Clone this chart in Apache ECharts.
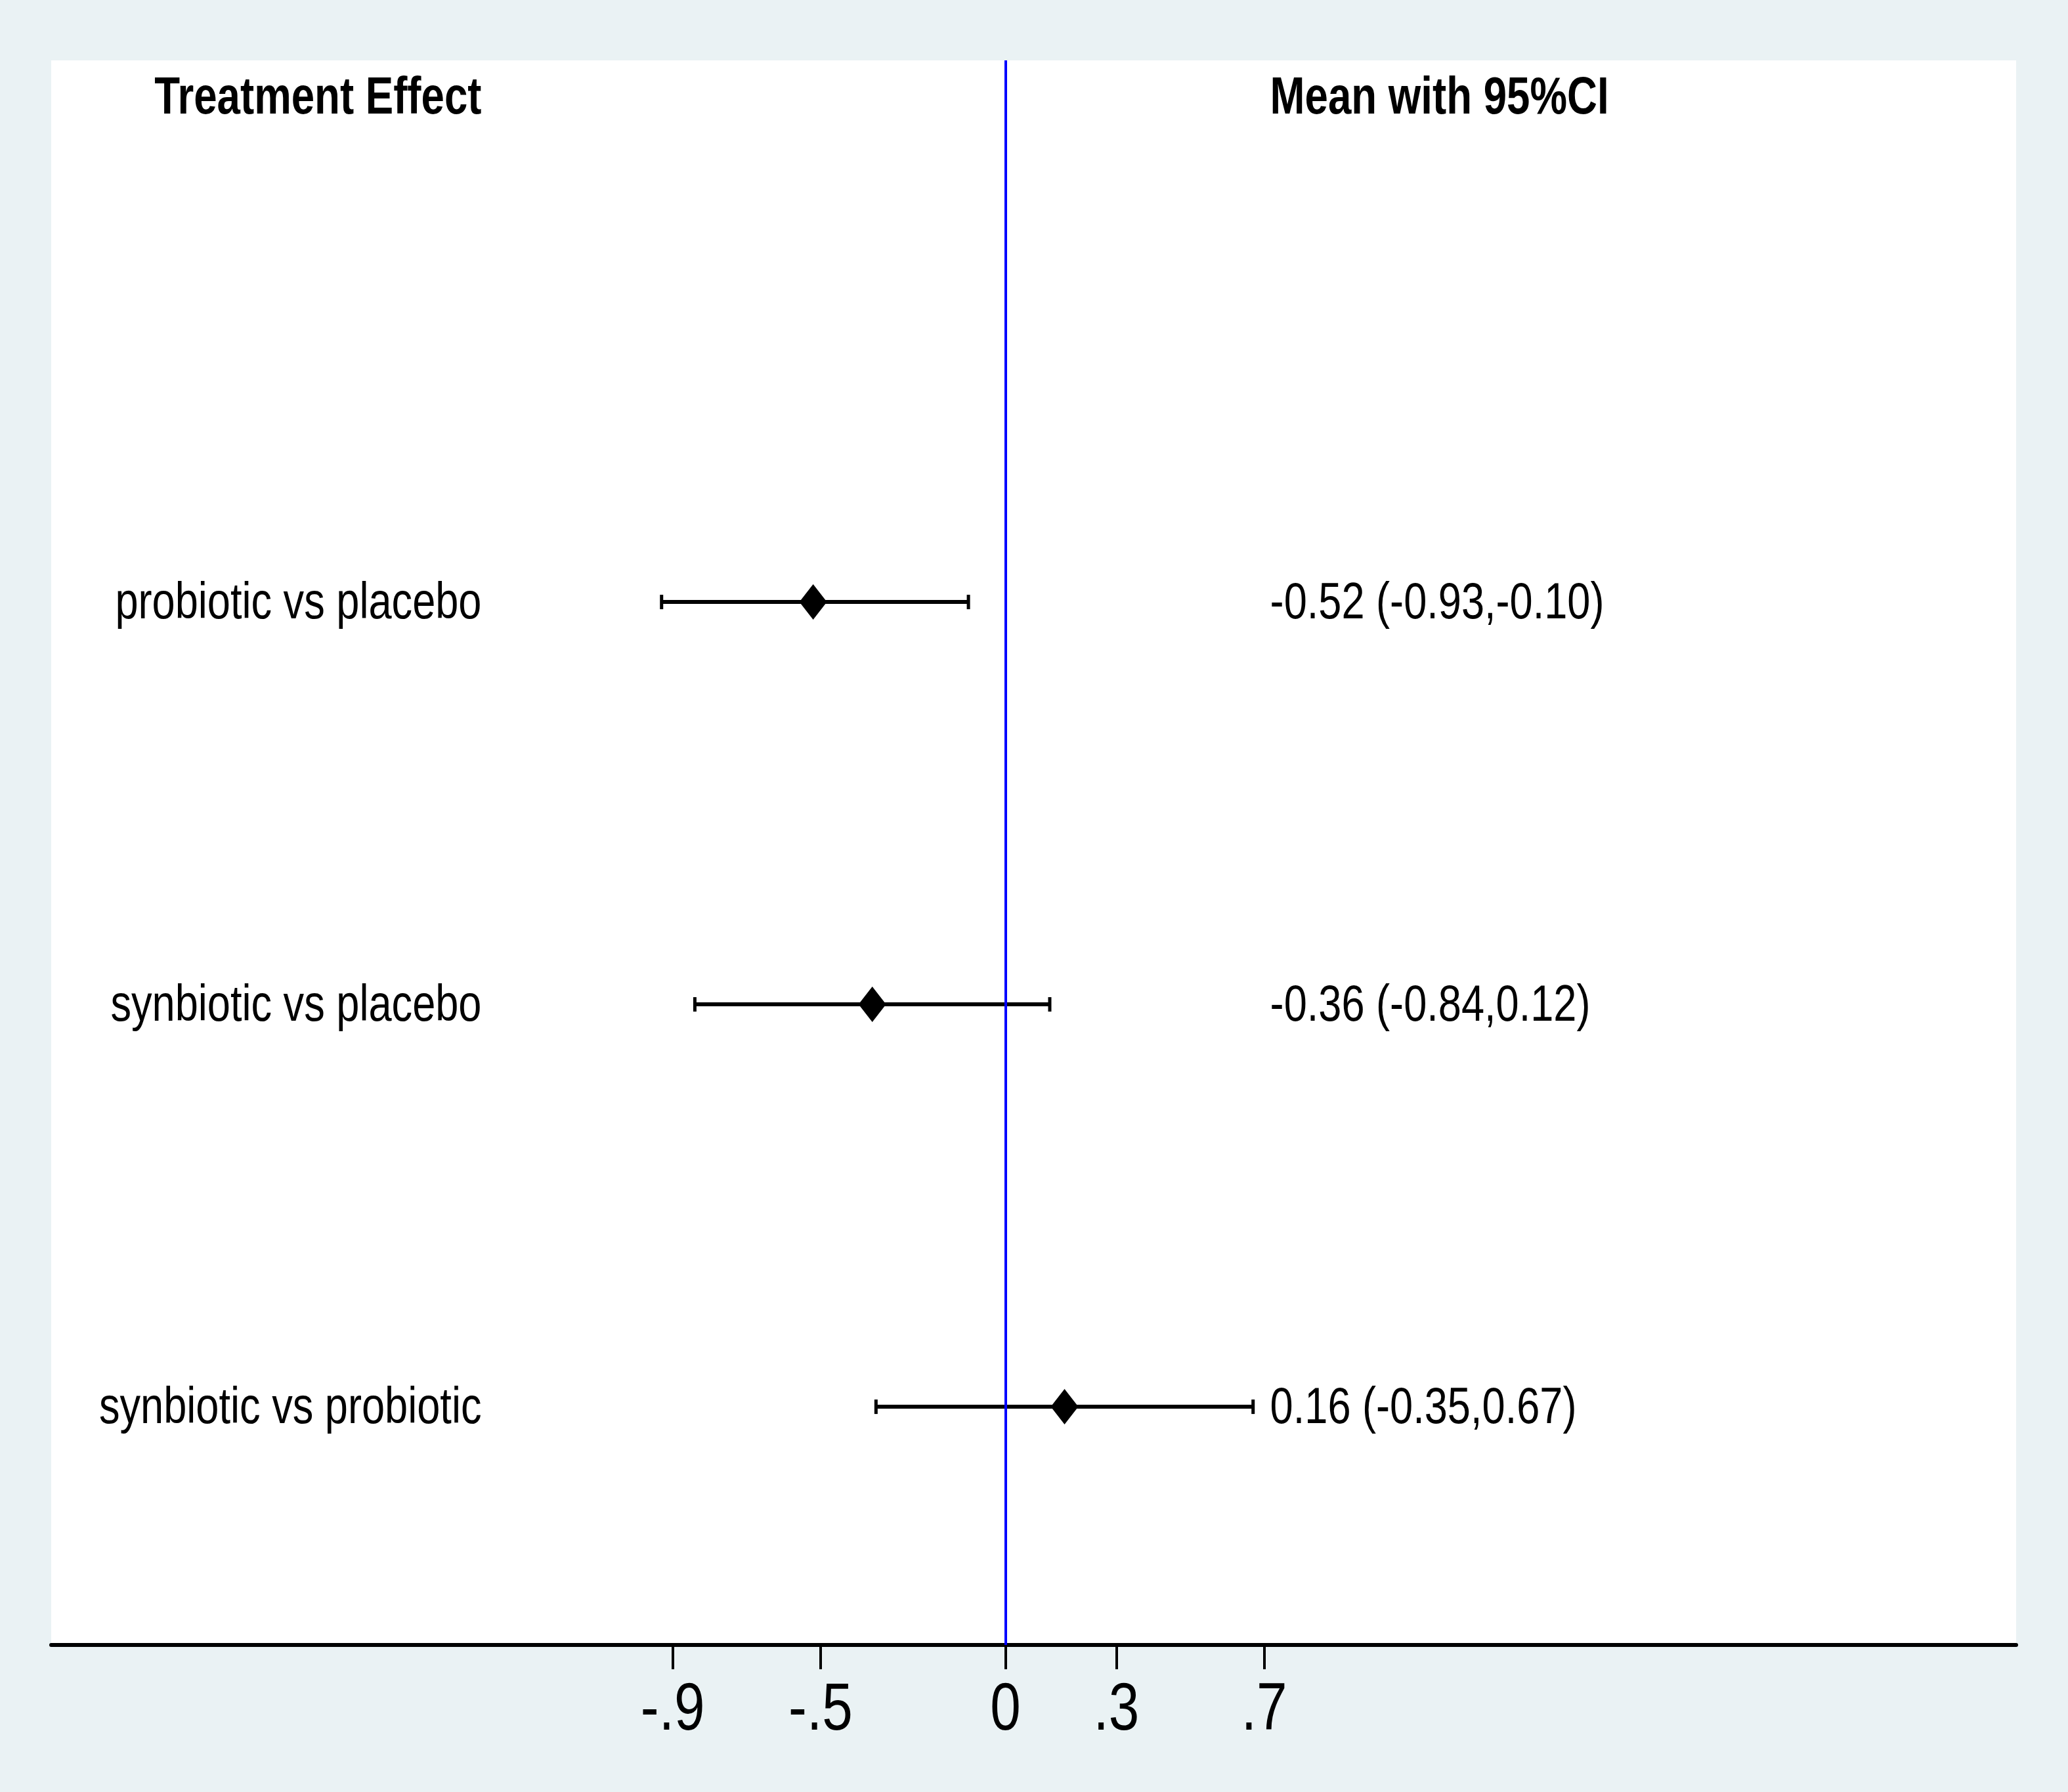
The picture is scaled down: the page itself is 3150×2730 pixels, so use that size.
<!DOCTYPE html>
<html>
<head>
<meta charset="utf-8">
<script src="https://cdn.jsdelivr.net/npm/echarts@6/dist/echarts.min.js"></script>
<style>
html,body{margin:0;padding:0;background:#eaf2f4;}
#chart{width:3150px;height:2730px;}
</style>
</head>
<body>
<div id="chart"></div>
<script>
const treatments = ['probiotic vs placebo', 'synbiotic vs placebo', 'synbiotic vs probiotic'];
const means = [-0.52, -0.36, 0.16];
const lower = [-0.93, -0.84, -0.35];
const upper = [-0.10, 0.12, 0.67];
const ciLabels = ['-0.52 (-0.93,-0.10)', '-0.36 (-0.84,0.12)', '0.16 (-0.35,0.67)'];
const tickValues = [-0.9, -0.5, 0, 0.3, 0.7];
const tickLabels = ['-.9', '-.5', '0', '.3', '.7'];
const headers = ['Treatment Effect', 'Mean with 95%CI'];

const FONT = "'Liberation Sans', Arial, sans-serif";
const NARROW = 0.82;     // horizontal squeeze to mimic a narrow face
const HEAD_NARROW = 0.795;
const NAME_X = -1.417;   // right edge of treatment-name column (data units)
const CI_X = 0.716;      // left edge of CI-text column (data units)
const HEADER_Y = -0.25;  // header row position (data units)
const TICK_LABEL_Y = 3.592; // tick labels hang below the axis (data units)

const rows = treatments.map((t, i) => [lower[i], upper[i], means[i], i + 1, t, ciLabels[i]]);

const chart = echarts.init(document.getElementById('chart'), null, {renderer: 'canvas'});
chart.setOption({
  backgroundColor: '#eaf2f4',
  animation: false,
  grid: {left: 78, right: 79, top: 92, bottom: 224, show: true, backgroundColor: '#ffffff', borderWidth: 0},
  xAxis: {
    type: 'value', min: -2.581, max: 2.734,
    splitLine: {show: false},
    axisLine: {show: true, onZero: false, lineStyle: {color: '#000', width: 6}},
    axisTick: {show: true, customValues: tickValues, length: 37, lineStyle: {color: '#000', width: 4}},
    axisLabel: {show: false}
  },
  yAxis: {type: 'value', inverse: true, min: -0.346, max: 3.592, show: false},
  series: [
    {
      type: 'custom',
      data: rows,
      encode: {x: [0, 1, 2], y: 3},
      clip: false,
      renderItem: function (params, api) {
        const y = api.value(3);
        const pL = api.coord([api.value(0), y]);
        const pU = api.coord([api.value(1), y]);
        const pM = api.coord([api.value(2), y]);
        const pN = api.coord([NAME_X, y]);
        const pC = api.coord([CI_X, y]);
        const capH = 11, dw = 21, dh = 27;
        return {
          type: 'group',
          children: [
            {type: 'line', shape: {x1: pL[0], y1: pL[1], x2: pU[0], y2: pU[1]}, style: {stroke: '#000', lineWidth: 6}},
            {type: 'line', shape: {x1: pL[0], y1: pL[1] - capH, x2: pL[0], y2: pL[1] + capH}, style: {stroke: '#000', lineWidth: 5}},
            {type: 'line', shape: {x1: pU[0], y1: pU[1] - capH, x2: pU[0], y2: pU[1] + capH}, style: {stroke: '#000', lineWidth: 5}},
            {type: 'polygon', shape: {points: [[pM[0], pM[1] - dh], [pM[0] + dw, pM[1]], [pM[0], pM[1] + dh], [pM[0] - dw, pM[1]]]}, style: {fill: '#000'}},
            {type: 'text', x: pN[0], y: pN[1] + 4, scaleX: NARROW, style: {text: api.value(4), fontFamily: FONT, fontSize: 77, fill: '#000', align: 'right', verticalAlign: 'middle'}},
            {type: 'text', x: pC[0], y: pC[1] + 4, scaleX: NARROW, style: {text: api.value(5), fontFamily: FONT, fontSize: 77, fill: '#000', align: 'left', verticalAlign: 'middle'}}
          ]
        };
      },
      markLine: {
        silent: true, symbol: ['none', 'none'], label: {show: false},
        lineStyle: {color: '#0000ff', width: 4, type: 'solid'},
        data: [{xAxis: 0}]
      },
      z: 3
    },
    {
      type: 'custom',
      data: [[NAME_X, HEADER_Y, 0], [CI_X, HEADER_Y, 1]],
      encode: {x: 0, y: 1},
      clip: false,
      renderItem: function (params, api) {
        const p = api.coord([api.value(0), api.value(1)]);
        const k = api.value(2);
        return {type: 'text', x: p[0], y: p[1], scaleX: HEAD_NARROW, style: {text: headers[k], fontFamily: FONT, fontSize: 80, fontWeight: 'bold', fill: '#000', align: k === 0 ? 'right' : 'left', verticalAlign: 'middle'}};
      },
      z: 3
    },
    {
      type: 'custom',
      data: tickValues.map((v, i) => [v, TICK_LABEL_Y, i]),
      encode: {x: 0, y: 1},
      clip: false,
      renderItem: function (params, api) {
        const p = api.coord([api.value(0), api.value(1)]);
        const k = api.value(2);
        return {type: 'text', x: p[0], y: p[1] + 50, scaleX: NARROW, style: {text: tickLabels[k], fontFamily: FONT, fontSize: 102, fill: '#000', align: 'center', verticalAlign: 'top'}};
      },
      z: 3
    }
  ]
});
</script>
</body>
</html>
